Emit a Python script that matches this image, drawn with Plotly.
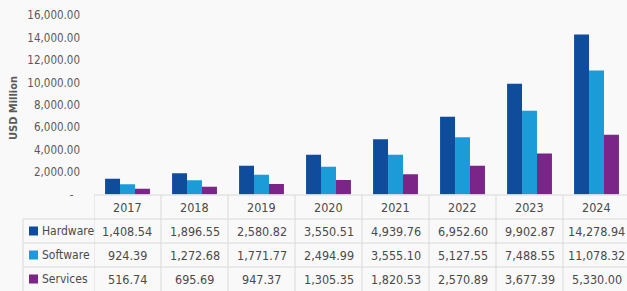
import plotly.graph_objects as go

years = ["2017", "2018", "2019", "2020", "2021", "2022", "2023", "2024"]
hardware = [1408.54, 1896.55, 2580.82, 3550.51, 4939.76, 6952.60, 9902.87, 14278.94]
software = [924.39, 1272.68, 1771.77, 2494.99, 3555.10, 5127.55, 7488.55, 11078.32]
services = [516.74, 695.69, 947.37, 1305.35, 1820.53, 2570.89, 3677.39, 5330.00]
series_names = ["Hardware", "Software", "Services"]
series_values = [hardware, software, services]
series_colors = ["#0f4c9c", "#1b9bd8", "#7a2587"]
y_tick_values = [0, 2000, 4000, 6000, 8000, 10000, 12000, 14000, 16000]
y_tick_labels = ["-\u00a0\u00a0", "2,000.00", "4,000.00", "6,000.00", "8,000.00",
                 "10,000.00", "12,000.00", "14,000.00", "16,000.00"]

W, H = 627, 291
FONT = "DejaVu Sans Condensed, Liberation Sans Narrow, DejaVu Sans, sans-serif"
GRID = "#d9d9d9"
TXT = "#4a4a4a"

def py(px):
    return (H - px) / H

def pxx(px):
    return px / W

fig = go.Figure()
for name, vals, col in zip(series_names, series_values, series_colors):
    fig.add_trace(go.Bar(x=years, y=vals, name=name, marker=dict(color=col, line=dict(width=0)),
                         showlegend=False))

shapes = []
annotations = []

top, row_h, head_h = 195, 24, 24
row_lines = [top + head_h + i * row_h for i in range(3)]  # 219, 243, 267
shapes.append(dict(type="line", xref="paper", yref="paper", x0=pxx(94), x1=1, y0=py(top), y1=py(top),
                   line=dict(color=GRID, width=1)))
for yl in row_lines:
    shapes.append(dict(type="line", xref="paper", yref="paper", x0=pxx(23), x1=1, y0=py(yl), y1=py(yl),
                       line=dict(color=GRID, width=1)))
shapes.append(dict(type="line", xref="paper", yref="paper", x0=pxx(23), x1=pxx(23),
                   y0=py(row_lines[0]), y1=0, line=dict(color=GRID, width=1)))
for i in range(len(years)):
    shapes.append(dict(type="line", xref="x", yref="paper", x0=i - 0.5, x1=i - 0.5,
                       y0=py(top), y1=0, line=dict(color=GRID, width=1)))

for i, yr in enumerate(years):
    annotations.append(dict(x=i, xref="x", y=py(top + head_h / 2), yref="paper", text=yr,
                            showarrow=False, font=dict(family=FONT, size=12.5, color=TXT),
                            xanchor="center", yanchor="middle"))
for r, (name, vals, col) in enumerate(zip(series_names, series_values, series_colors)):
    yc = row_lines[r] + row_h / 2
    shapes.append(dict(type="rect", xref="paper", yref="paper", x0=pxx(29), x1=pxx(38),
                       y0=py(yc + 4.5), y1=py(yc - 4.5), fillcolor=col, line=dict(width=0)))
    annotations.append(dict(x=pxx(39.5), xref="paper", y=py(yc), yref="paper", text=name,
                            showarrow=False, font=dict(family=FONT, size=12, color=TXT),
                            xanchor="left", yanchor="middle"))
    for i, v in enumerate(vals):
        annotations.append(dict(x=i, xref="x", y=py(yc), yref="paper", text=f"{v:,.2f}",
                                showarrow=False, font=dict(family=FONT, size=12.5, color=TXT),
                                xanchor="center", yanchor="middle"))

annotations.append(dict(x=pxx(13), xref="paper", y=py(108), yref="paper", text="<b>USD Million</b>",
                        textangle=-90, showarrow=False, font=dict(family=FONT, size=11, color="#595959"),
                        xanchor="center", yanchor="middle"))

fig.update_layout(
    width=W, height=H,
    margin=dict(l=0, r=0, t=0, b=0),
    paper_bgcolor="#f9f9f9", plot_bgcolor="#f9f9f9",
    barmode="group", bargap=0.33, bargroupgap=0,
    font=dict(family=FONT, color="#595959"),
    xaxis=dict(domain=[pxx(94), 1], range=[-0.5, 7.455], type="category", automargin=False,
               showticklabels=False, showgrid=False, zeroline=False, showline=False),
    yaxis=dict(domain=[py(194.6), py(15.3)], range=[0, 16000], automargin=False,
               tickvals=y_tick_values, ticktext=y_tick_labels,
               tickfont=dict(family=FONT, size=11.5, color="#595959"),
               showgrid=False, zeroline=False, showline=False, ticklabelstandoff=13),
    shapes=shapes, annotations=annotations,
)

fig.write_html("out.html", config={"displayModeBar": False},
               post_script="document.body.style.margin='0';document.body.style.background='#f9f9f9';")
